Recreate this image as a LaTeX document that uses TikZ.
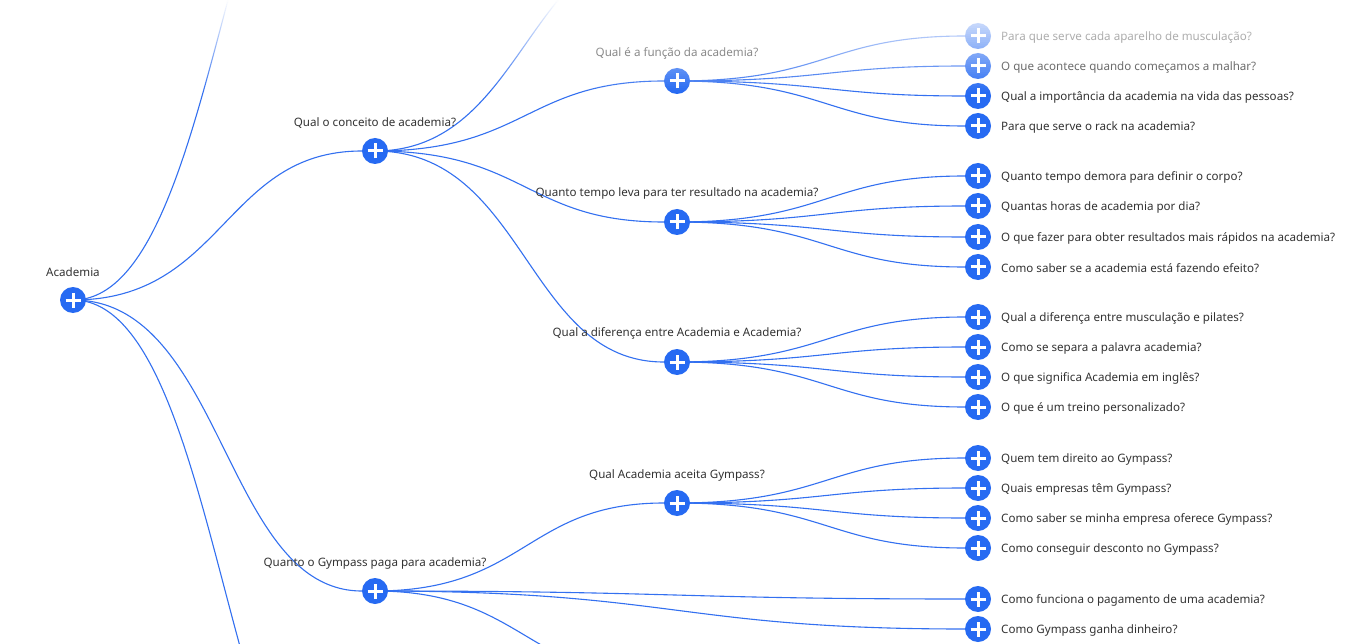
\documentclass[tikz,border=0pt]{standalone}
\usepackage{fontspec}
\setmainfont{Noto Sans}
\usetikzlibrary{backgrounds}
\definecolor{nodeblue}{RGB}{38,106,242}
\definecolor{edgeblue}{RGB}{51,112,240}
\definecolor{txt}{RGB}{51,51,51}
\newcommand\hconn[3]{\draw[link] (#1.center) .. controls +(#3,0) and +(-#3,0) .. (#2);}
\begin{document}
\begin{tikzpicture}[x=1pt,y=-1pt,
  plusnode/.style={circle, fill=nodeblue, minimum size=26pt, inner sep=0pt,
    path picture={
      \draw[white, line width=3pt]
        ([xshift=-7.5pt]path picture bounding box.center) -- ([xshift=7.5pt]path picture bounding box.center)
        ([yshift=-7.5pt]path picture bounding box.center) -- ([yshift=7.5pt]path picture bounding box.center);}},
  lbl/.style={text=txt, inner sep=0pt, yshift=-1pt, font=\fontsize{11.6}{13}\selectfont},
  link/.style={draw=edgeblue, line width=1.1pt}]
\begin{pgfonlayer}{background}
  \fill[white] (0,0) rectangle (1351,644);
\end{pgfonlayer}
\useasboundingbox (0,0) rectangle (1351,644);

% main nodes
\node[plusnode] (root) at (73,300) {};
\node[lbl] (rootl) at (73,271) {Academia};
\node[plusnode] (c1) at (375,151) {};
\node[lbl] (c1l) at (375,122) {Qual o conceito de academia?};
\node[plusnode] (g1) at (375,591) {};
\node[lbl] (g1l) at (375,562) {Quanto o Gympass paga para academia?};
\node[plusnode] (f2) at (677,81) {};
\node[lbl] (f2l) at (677,52) {Qual é a função da academia?};
\node[plusnode] (t2) at (677,222) {};
\node[lbl] (t2l) at (677,192) {Quanto tempo leva para ter resultado na academia?};
\node[plusnode] (d2) at (677,362) {};
\node[lbl] (d2l) at (677,332) {Qual a diferença entre Academia e Academia?};
\node[plusnode] (a2) at (677,503) {};
\node[lbl] (a2l) at (677,474) {Qual Academia aceita Gympass?};

% off-screen targets
\coordinate (offroot1) at (375,-270);
\coordinate (offroot2) at (375,873);
\coordinate (offc1) at (677,-64);
\coordinate (offg1) at (677,681);

% leaves
\foreach \n/\y/\t in {
  f1/36/{Para que serve cada aparelho de musculação?},
  f2x/66/{O que acontece quando começamos a malhar?},
  f3/96/{Qual a importância da academia na vida das pessoas?},
  f4/126/{Para que serve o rack na academia?},
  t1/176/{Quanto tempo demora para definir o corpo?},
  t2x/206/{Quantas horas de academia por dia?},
  t3/237/{O que fazer para obter resultados mais rápidos na academia?},
  t4/267/{Como saber se a academia está fazendo efeito?},
  d1/317/{Qual a diferença entre musculação e pilates?},
  d2x/347/{Como se separa a palavra academia?},
  d3/377/{O que significa Academia em inglês?},
  d4/407/{O que é um treino personalizado?},
  a1/458/{Quem tem direito ao Gympass?},
  a2x/488/{Quais empresas têm Gympass?},
  a3/518/{Como saber se minha empresa oferece Gympass?},
  a4/548/{Como conseguir desconto no Gympass?},
  g1x/599/{Como funciona o pagamento de uma academia?},
  g2x/629/{Como Gympass ganha dinheiro?}}{
  \node[plusnode] (\n) at (978,\y) {};
  \node[lbl, anchor=west] (\n l) at (1001,\y) {\t};
}

\begin{pgfonlayer}{background}
  \hconn{root}{offroot1}{151}
  \hconn{root}{c1}{151}
  \hconn{root}{g1}{151}
  \hconn{root}{offroot2}{151}
  \hconn{c1}{offc1}{151}
  \hconn{c1}{f2}{151}
  \hconn{c1}{t2}{151}
  \hconn{c1}{d2}{151}
  \hconn{g1}{a2}{151}
  \hconn{g1}{offg1}{151}
  \hconn{g1}{g1x}{301}
  \hconn{g1}{g2x}{301}
  \foreach \s/\a/\b/\c/\d in {f2/f1/f2x/f3/f4, t2/t1/t2x/t3/t4, d2/d1/d2x/d3/d4, a2/a1/a2x/a3/a4}{
    \hconn{\s}{\a}{150}
    \hconn{\s}{\b}{150}
    \hconn{\s}{\c}{150}
    \hconn{\s}{\d}{150}
  }
\end{pgfonlayer}

% fade towards the top edge
\foreach \k in {0,...,46}{
  \pgfmathsetmacro\op{min(1,max(0,(93-2*\k-1)/93))}
  \fill[white, fill opacity=\op] (0,2*\k) rectangle (1351,2*\k+2);
}
\end{tikzpicture}
\end{document}
